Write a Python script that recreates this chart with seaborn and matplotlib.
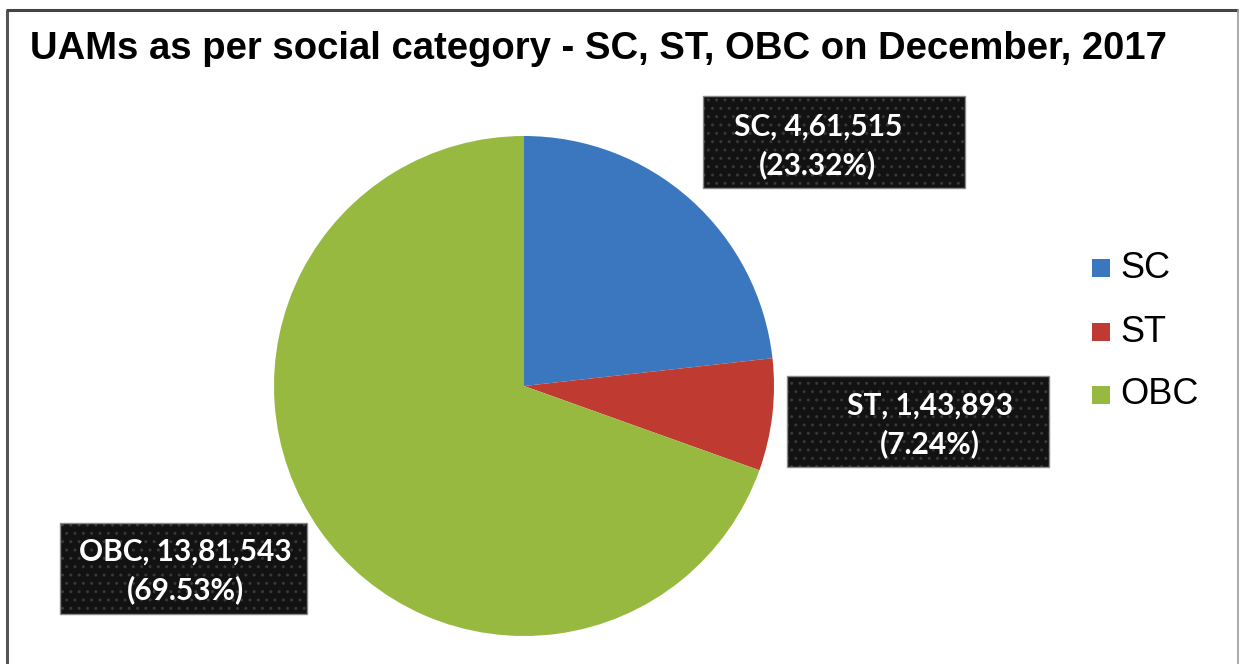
import matplotlib
matplotlib.use("Agg")
import matplotlib.pyplot as plt
from matplotlib.patches import Rectangle
import seaborn as sns

# Udyog Aadhaar Memoranda by social category, December 2017
categories = ["SC", "ST", "OBC"]
counts = [461515, 143893, 1381543]
pct_labels = ["23.32%", "7.24%", "69.53%"]
colors = ["#3A77BE", "#BF3A31", "#98B940"]

title = "UAMs as per social category - SC, ST, OBC on December, 2017"


def indian_format(n):
    s = str(n)
    if len(s) <= 3:
        return s
    head, tail = s[:-3], s[-3:]
    groups = []
    while len(head) > 2:
        groups.insert(0, head[-2:])
        head = head[:-2]
    if head:
        groups.insert(0, head)
    return ",".join(groups + [tail])


sns.set_theme(style="white")
plt.rcParams["font.family"] = ["Liberation Sans", "DejaVu Sans"]
palette = sns.color_palette(colors)

W, H = 1240, 664
fig = plt.figure(figsize=(W / 100, H / 100), dpi=100)
ax = fig.add_axes([0, 0, 1, 1])


def py(y):
    # convert a top-down pixel row into axis y
    return H - y


# pie
wedges, _ = ax.pie(
    counts,
    colors=palette,
    startangle=90,
    counterclock=False,
    center=(524, py(386)),
    radius=250,
    frame=True,
    wedgeprops=dict(edgecolor="none", linewidth=0),
)
ax.set_xlim(0, W)
ax.set_ylim(0, H)
ax.set_axis_off()

# chart frame
ax.plot([7, 7], [py(10), py(700)], color="#555555", lw=2.2, solid_capstyle="butt")
ax.plot([6, 1238], [py(10), py(10)], color="#444444", lw=2.2, solid_capstyle="butt")
ax.plot([1238, 1238], [py(10), py(700)], color="#999999", lw=1.2)

# title
ax.text(30, py(49), title, fontsize=27.5, fontweight="bold", ha="left",
        va="center", color="black")

# data label boxes (left, top, right, bottom) and text anchors, in pixels
boxes = [(703, 96, 965, 188), (787, 376, 1049, 467), (60, 523, 307, 614)]
anchors = [(818, 146), (930, 425), (185, 571)]
for cat, n, pct, (x0, y0, x1, y1), (tx, ty) in zip(
        categories, counts, pct_labels, boxes, anchors):
    fill = Rectangle((x0, py(y1)), x1 - x0, y1 - y0, facecolor="#121212",
                     edgecolor="#383838", linewidth=0, hatch="..", zorder=3)
    ax.add_patch(fill)
    outline = Rectangle((x0, py(y1)), x1 - x0, y1 - y0, facecolor="none",
                        edgecolor="#8a8a8a", linewidth=1.0, zorder=4)
    ax.add_patch(outline)
    ax.text(tx, py(ty), f"{cat}, {indian_format(n)}\n({pct})",
            ha="center", va="center", color="white", fontsize=21.5,
            fontweight="bold", family=["Lato", "DejaVu Sans"],
            linespacing=1.38, zorder=5)

# legend
leg_rows = [268, 332, 395]
for cat, col, y in zip(categories, palette, leg_rows):
    ax.add_patch(Rectangle((1092, py(y + 9)), 18, 18, facecolor=col,
                           edgecolor="none"))
    ax.text(1120, py(y), cat, fontsize=26, ha="left", va="center",
            color="black")

fig.savefig("out.png", dpi=100)
